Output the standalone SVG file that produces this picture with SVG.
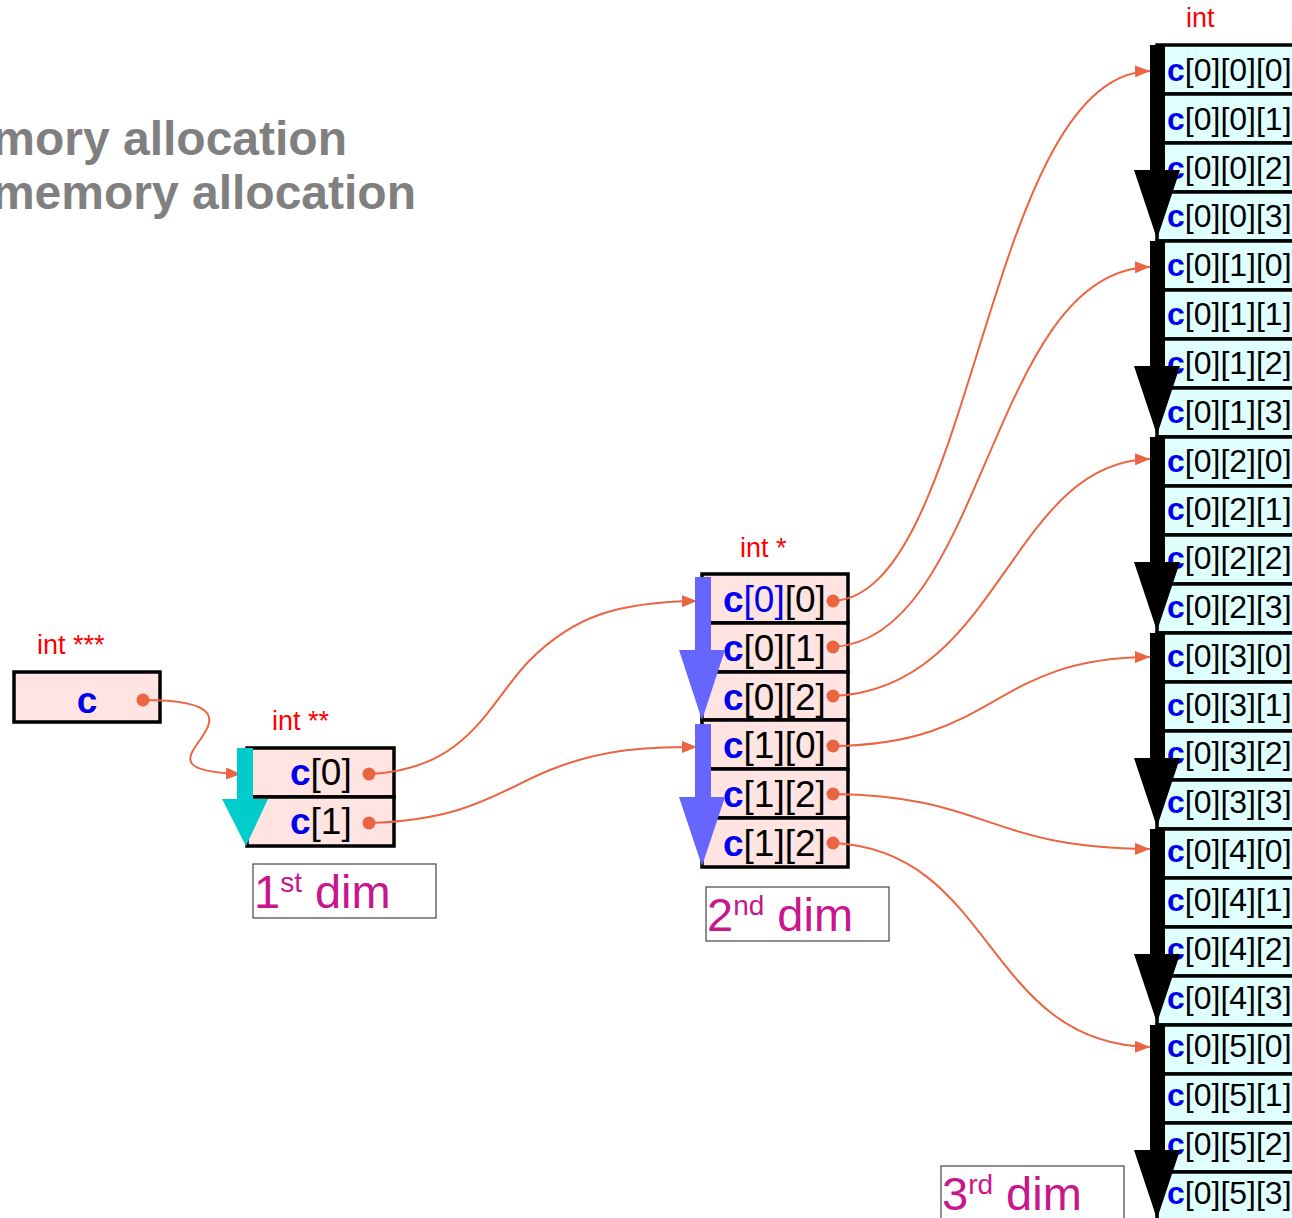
<svg xmlns="http://www.w3.org/2000/svg" width="1292" height="1218" viewBox="0 0 1292 1218">
  <defs>
    <style>
      .title { font-family: "Liberation Sans", Arial, sans-serif; font-weight: bold; font-size: 48px; fill: #808080; }
      .type { font-family: "Liberation Sans", Arial, sans-serif; font-size: 27px; fill: #ff0000; }
      .cell { font-family: "Liberation Sans", Arial, sans-serif; font-size: 37px; fill: #000; }
      .cell3 { font-family: "Liberation Sans", Arial, sans-serif; font-size: 32px; fill: #000; }
      .var { font-weight: bold; fill: #0000ee; }
      .idx { fill: #0000ee; }
      .dim { font-family: "Liberation Sans", Arial, sans-serif; font-size: 47px; fill: #c8168c; }
      .sup { font-size: 28px; }
      .ptrbox { fill: #ffe4e1; stroke: #000; stroke-width: 3.5; }
      .intbox { fill: #e0ffff; stroke: #000; stroke-width: 3.5; }
      .dimbox { fill: #fff; stroke: #444; stroke-width: 1.2; }
      .link { fill: none; stroke: #ea6541; stroke-width: 2; marker-start: url(#dot); marker-end: url(#head); }
    </style>
    <marker id="head" viewBox="0 0 15 12" refX="15" refY="6" markerWidth="15" markerHeight="12" markerUnits="userSpaceOnUse" orient="auto">
      <path d="M0,0 L15,6 L0,12 z" fill="#ea6541"/>
    </marker>
    <marker id="dot" viewBox="0 0 14 14" refX="7" refY="7" markerWidth="14" markerHeight="14" markerUnits="userSpaceOnUse">
      <circle cx="7" cy="7" r="6.5" fill="#ea6541"/>
    </marker>
  </defs>

  <!-- heading -->
  <g id="heading">
    <text class="title" x="347" y="155" text-anchor="end">mory allocation</text>
    <text class="title" x="416" y="209" text-anchor="end">memory allocation</text>
  </g>

  <!-- int *** c -->
  <g id="node-c">
    <text class="type" x="37" y="654">int ***</text>
    <rect class="ptrbox" x="14" y="672" width="146" height="50"/>
    <text class="cell var" x="87" y="713" text-anchor="middle">c</text>
  </g>

  <!-- int ** c[i] -->
  <g id="node-dim1">
    <text class="type" x="272" y="730">int **</text>
    <rect class="ptrbox" x="247" y="748" width="147" height="49"/>
    <rect class="ptrbox" x="247" y="797" width="147" height="49"/>
    <text class="cell" x="290" y="785"><tspan class="var">c</tspan>[0]</text>
    <text class="cell" x="290" y="834"><tspan class="var">c</tspan>[1]</text>
  </g>

  <!-- int * c[i][j] -->
  <g id="node-dim2">
    <text class="type" x="740" y="557">int *</text>
    <rect class="ptrbox" x="702" y="574" width="146" height="49"/>
    <rect class="ptrbox" x="702" y="623" width="146" height="49"/>
    <rect class="ptrbox" x="702" y="672" width="146" height="48"/>
    <rect class="ptrbox" x="702" y="720" width="146" height="49"/>
    <rect class="ptrbox" x="702" y="769" width="146" height="49"/>
    <rect class="ptrbox" x="702" y="818" width="146" height="49"/>
    <text class="cell" x="723" y="612"><tspan class="var">c</tspan><tspan class="idx">[0]</tspan>[0]</text>
    <text class="cell" x="723" y="661"><tspan class="var">c</tspan>[0][1]</text>
    <text class="cell" x="723" y="710"><tspan class="var">c</tspan>[0][2]</text>
    <text class="cell" x="723" y="758"><tspan class="var">c</tspan>[1][0]</text>
    <text class="cell" x="723" y="807"><tspan class="var">c</tspan>[1][2]</text>
    <text class="cell" x="723" y="856"><tspan class="var">c</tspan>[1][2]</text>
  </g>

  <!-- int c[i][j][k] -->
  <g id="node-dim3">
    <text class="type" x="1186" y="27">int</text>
    <g>
      <rect class="intbox" x="1157" y="45" width="150" height="49"/>
      <rect class="intbox" x="1157" y="94" width="150" height="49"/>
      <rect class="intbox" x="1157" y="143" width="150" height="49"/>
      <rect class="intbox" x="1157" y="192" width="150" height="49"/>
      <rect class="intbox" x="1157" y="241" width="150" height="49"/>
      <rect class="intbox" x="1157" y="290" width="150" height="49"/>
      <rect class="intbox" x="1157" y="339" width="150" height="49"/>
      <rect class="intbox" x="1157" y="388" width="150" height="49"/>
      <rect class="intbox" x="1157" y="437" width="150" height="49"/>
      <rect class="intbox" x="1157" y="486" width="150" height="49"/>
      <rect class="intbox" x="1157" y="535" width="150" height="49"/>
      <rect class="intbox" x="1157" y="584" width="150" height="49"/>
      <rect class="intbox" x="1157" y="633" width="150" height="49"/>
      <rect class="intbox" x="1157" y="682" width="150" height="49"/>
      <rect class="intbox" x="1157" y="731" width="150" height="49"/>
      <rect class="intbox" x="1157" y="780" width="150" height="49"/>
      <rect class="intbox" x="1157" y="829" width="150" height="49"/>
      <rect class="intbox" x="1157" y="878" width="150" height="49"/>
      <rect class="intbox" x="1157" y="927" width="150" height="49"/>
      <rect class="intbox" x="1157" y="976" width="150" height="49"/>
      <rect class="intbox" x="1157" y="1025" width="150" height="49"/>
      <rect class="intbox" x="1157" y="1074" width="150" height="49"/>
      <rect class="intbox" x="1157" y="1123" width="150" height="49"/>
      <rect class="intbox" x="1157" y="1172" width="150" height="49"/>
    </g>
    <g class="cell3">
      <text x="1167" y="81"><tspan class="var">c</tspan>[0][0][0]</text>
      <text x="1167" y="130"><tspan class="var">c</tspan>[0][0][1]</text>
      <text x="1167" y="179"><tspan class="var">c</tspan>[0][0][2]</text>
      <text x="1167" y="227"><tspan class="var">c</tspan>[0][0][3]</text>
      <text x="1167" y="276"><tspan class="var">c</tspan>[0][1][0]</text>
      <text x="1167" y="325"><tspan class="var">c</tspan>[0][1][1]</text>
      <text x="1167" y="374"><tspan class="var">c</tspan>[0][1][2]</text>
      <text x="1167" y="423"><tspan class="var">c</tspan>[0][1][3]</text>
      <text x="1167" y="472"><tspan class="var">c</tspan>[0][2][0]</text>
      <text x="1167" y="520"><tspan class="var">c</tspan>[0][2][1]</text>
      <text x="1167" y="569"><tspan class="var">c</tspan>[0][2][2]</text>
      <text x="1167" y="618"><tspan class="var">c</tspan>[0][2][3]</text>
      <text x="1167" y="667"><tspan class="var">c</tspan>[0][3][0]</text>
      <text x="1167" y="716"><tspan class="var">c</tspan>[0][3][1]</text>
      <text x="1167" y="764"><tspan class="var">c</tspan>[0][3][2]</text>
      <text x="1167" y="813"><tspan class="var">c</tspan>[0][3][3]</text>
      <text x="1167" y="862"><tspan class="var">c</tspan>[0][4][0]</text>
      <text x="1167" y="911"><tspan class="var">c</tspan>[0][4][1]</text>
      <text x="1167" y="960"><tspan class="var">c</tspan>[0][4][2]</text>
      <text x="1167" y="1009"><tspan class="var">c</tspan>[0][4][3]</text>
      <text x="1167" y="1057"><tspan class="var">c</tspan>[0][5][0]</text>
      <text x="1167" y="1106"><tspan class="var">c</tspan>[0][5][1]</text>
      <text x="1167" y="1155"><tspan class="var">c</tspan>[0][5][2]</text>
      <text x="1167" y="1204"><tspan class="var">c</tspan>[0][5][3]</text>
    </g>
  </g>

  <!-- dimension captions -->
  <g id="caption-dim1">
    <rect class="dimbox" x="253" y="864" width="183" height="54"/>
    <text class="dim" x="254" y="908">1<tspan class="sup" dy="-16">st</tspan><tspan dy="16"> dim</tspan></text>
  </g>
  <g id="caption-dim2">
    <rect class="dimbox" x="706" y="887" width="183" height="54"/>
    <text class="dim" x="707" y="931">2<tspan class="sup" dy="-16">nd</tspan><tspan dy="16"> dim</tspan></text>
  </g>
  <g id="caption-dim3">
    <rect class="dimbox" x="941" y="1166" width="183" height="60"/>
    <text class="dim" x="942" y="1210">3<tspan class="sup" dy="-16">rd</tspan><tspan dy="16"> dim</tspan></text>
  </g>

  <!-- pointer links -->
  <g id="connectors">
    <path class="link" d="M143,700 C230,700 210,725 200,740 C185,760 180,772 241,774"/>
    <path class="link" d="M369,774 C470,770 490,700 530,660 C575,615 620,602 697,601"/>
    <path class="link" d="M369,823 C470,820 500,790 550,770 C600,750 640,747 697,747"/>
    <path class="link" d="M833,601 C975,595 985,75 1150,71"/>
    <path class="link" d="M833,647 C985,640 990,270 1150,267"/>
    <path class="link" d="M833,696 C1000,690 1010,462 1150,459"/>
    <path class="link" d="M833,746 C1000,744 990,658 1150,657"/>
    <path class="link" d="M833,794 C990,796 985,848 1150,849"/>
    <path class="link" d="M833,843 C995,850 985,1044 1150,1047"/>
  </g>

  <!-- direction arrows drawn over the blocks -->
  <g id="dir-dim1">
    <rect x="237" y="748" width="16" height="52" fill="#00cccc"/>
    <polygon points="222,799 268,799 246,846" fill="#00cccc"/>
  </g>
  <g id="dir-dim2" fill="#6666ff">
    <rect x="695" y="577" width="16" height="74"/>
    <polygon points="679,650 725,650 702,720"/>
    <rect x="695" y="724" width="16" height="74"/>
    <polygon points="679,797 725,797 702,866"/>
  </g>
  <g id="dir-dim3" fill="#000">
    <rect x="1150" y="45" width="15" height="126"/>
    <polygon points="1134,170 1180,170 1157,239"/>
    <rect x="1150" y="241" width="15" height="126"/>
    <polygon points="1134,366 1180,366 1157,435"/>
    <rect x="1150" y="437" width="15" height="126"/>
    <polygon points="1134,562 1180,562 1157,631"/>
    <rect x="1150" y="633" width="15" height="126"/>
    <polygon points="1134,758 1180,758 1157,827"/>
    <rect x="1150" y="829" width="15" height="126"/>
    <polygon points="1134,954 1180,954 1157,1023"/>
    <rect x="1150" y="1025" width="15" height="126"/>
    <polygon points="1134,1150 1180,1150 1157,1219"/>
  </g>
</svg>
